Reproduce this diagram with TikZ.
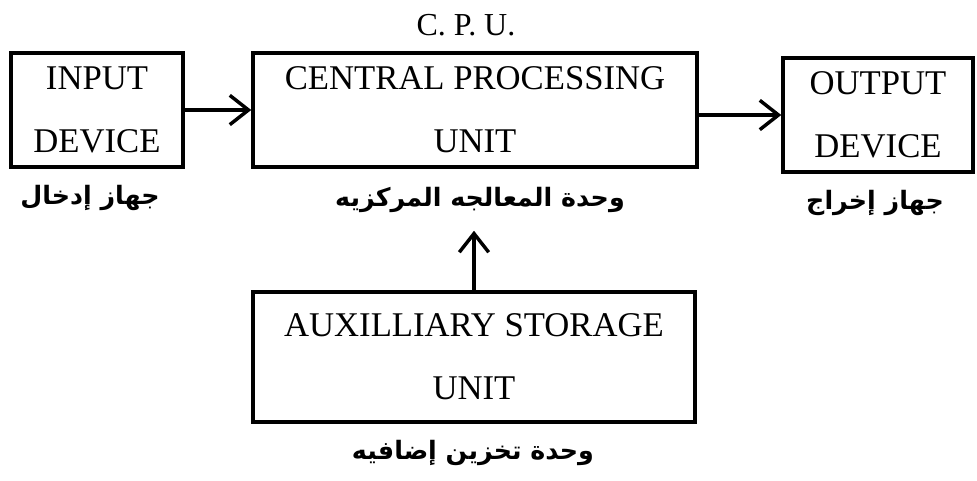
\documentclass[tikz,border=0pt]{standalone}
\usepackage{fontspec}
\setmainfont{Liberation Serif}
\newfontfamily\arabicfont[Script=Arabic]{DejaVu Sans}
\TeXXeTstate=1
\usetikzlibrary{arrows.meta}

\tikzset{
  unitbox/.style={draw, line width=2.6pt, minimum height=85.5pt, align=center,
    font=\fontsize{26}{47}\selectfont},
  arlabel/.style={font=\arabicfont\bfseries\fontsize{19}{22}\selectfont},
  flow/.style={line width=2.3pt, -{Straight Barb[length=14pt,width=22pt,line width=2.6pt]}}
}

\begin{document}
\begin{tikzpicture}[x=0.75pt,y=-0.75pt]
\useasboundingbox (0,0) rectangle (977,481);
\node[unitbox, minimum width=129pt] (in) at (97,110) {INPUT\\DEVICE};
\node[unitbox, minimum width=333pt] (cpu) at (475,110) {CENTRAL PROCESSING\\UNIT};
\node[unitbox, minimum width=142.5pt] (out) at (878,115) {OUTPUT\\DEVICE};
\node[unitbox, minimum width=331.5pt, minimum height=97.5pt] (aux) at (474,357) {AUXILLIARY STORAGE\\UNIT};
\node[font=\fontsize{24}{28}\selectfont] (cpuname) at (466,25) {C. P. U.};
\node[arlabel] (inar) at (90,198) {\beginR جهاز إدخال\endR};
\node[arlabel] (cpuar) at (480,200) {\beginR وحدة المعالجه المركزيه\endR};
\node[arlabel] (outar) at (875,203) {\beginR جهاز إخراج\endR};
\node[arlabel] (auxar) at (473,453) {\beginR وحدة تخزين إضافيه\endR};
\draw[flow] (in) -- (cpu);
\draw[flow] (cpu.east |- out) -- (out);
\draw[flow, shorten >=10pt] (aux) -- (aux.north |- cpuar.south);
\end{tikzpicture}
\end{document}
